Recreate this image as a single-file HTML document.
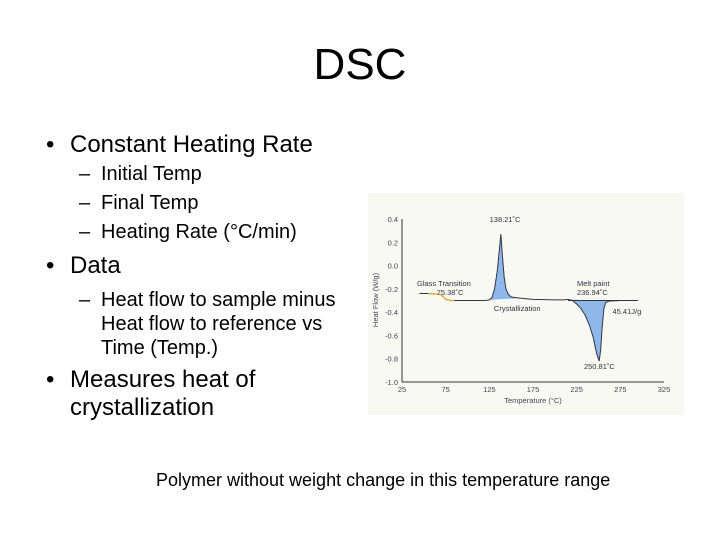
<!DOCTYPE html>
<html><head><meta charset="utf-8"><style>
body{margin:0;width:720px;height:540px;background:#fff;font-family:"Liberation Sans",sans-serif;position:relative;overflow:hidden}
.t{position:absolute;white-space:nowrap;color:#000}
</style></head><body>
<div class="t" style="left:0;width:720px;text-align:center;top:40px;font-size:44px">DSC</div>
<div class="t" style="left:46px;top:131px;font-size:24px">•<span style="position:absolute;left:24px">Constant Heating Rate</span></div>
<div class="t" style="left:79px;top:163px;font-size:20px">–<span style="position:absolute;left:22px">Initial Temp</span></div>
<div class="t" style="left:79px;top:192px;font-size:20px">–<span style="position:absolute;left:22px">Final Temp</span></div>
<div class="t" style="left:79px;top:221px;font-size:20px">–<span style="position:absolute;left:22px">Heating Rate (°C/min)</span></div>
<div class="t" style="left:46px;top:252px;font-size:24px">•<span style="position:absolute;left:24px">Data</span></div>
<div class="t" style="left:79px;top:288px;font-size:20px;line-height:24px">–<span style="position:absolute;left:22px">Heat flow to sample minus<br>Heat flow to reference vs<br>Time (Temp.)</span></div>
<div class="t" style="left:46px;top:366px;font-size:24px;line-height:28px">•<span style="position:absolute;left:24px">Measures heat of<br>crystallization</span></div>
<div class="t" style="left:156px;top:470px;font-size:18px">Polymer without weight change in this temperature range</div>
<svg style="position:absolute;left:368px;top:193px" width="316" height="222" viewBox="368 193 316 222">
<rect x="368" y="193" width="316" height="222" fill="#f9f9f3"/>
<g id="g"></g>
</svg>
<script>
const temps=[45,55,65,70,75,80,100,120,125,128,131,134,136,138.2,140,142,144,147,150,160,175,200,210,215,220,225,230,235,240,244,248,250.8,252.5,254,256,258,262,275,295];
const flows=[-0.24,-0.24,-0.245,-0.25,-0.29,-0.3,-0.3,-0.3,-0.295,-0.275,-0.2,-0.05,0.1,0.27,0.08,-0.1,-0.2,-0.25,-0.27,-0.28,-0.29,-0.295,-0.295,-0.29,-0.3,-0.33,-0.37,-0.43,-0.52,-0.62,-0.76,-0.82,-0.72,-0.55,-0.38,-0.32,-0.305,-0.3,-0.3];
const yTicks=["0.4","0.2","0.0","-0.2","-0.4","-0.6","-0.8","-1.0"];
const yVals=[0.4,0.2,0,-0.2,-0.4,-0.6,-0.8,-1.0];
const xVals=[25,75,125,175,225,275,325];
const ns="http://www.w3.org/2000/svg",g=document.getElementById('g');
const X=t=>402+(t-25)*(262/300), Y=v=>219+(0.4-v)*(163/1.4);
function mk(tag,a,txt){const e=document.createElementNS(ns,tag);for(const k in a)e.setAttribute(k,a[k]);if(txt)e.textContent=txt;g.appendChild(e);return e;}
function fill(lo,hi,name){const pts=[];temps.forEach((t,i)=>{if(t>=lo&&t<=hi)pts.push([X(t),Y(flows[i])]);});const d='M'+pts.map(p=>p.join(',')).join('L')+'Z';const e=mk('path',{d:d,fill:'#8fb8ea',stroke:'none'});}
fill(125,165,'crystallization-peak-fill');fill(215,262,'melt-peak-fill');
let a=mk('line',{x1:402,y1:219,x2:402,y2:382,stroke:'#333','stroke-width':1});
a=mk('line',{x1:402,y1:382,x2:664,y2:382,stroke:'#333','stroke-width':1});
yVals.forEach((v,i)=>{const e=mk('text',{x:398,y:Y(v)+3,'font-size':7.5,'text-anchor':'end',fill:'#445'},yTicks[i]);});
xVals.forEach(v=>{const e=mk('text',{x:X(v),y:392,'font-size':7.5,'text-anchor':'middle',fill:'#445'},String(v));});
a=mk('text',{x:533,y:403,'font-size':7.5,'text-anchor':'middle',fill:'#445'},'Temperature (°C)');
a=mk('text',{x:378,y:300,'font-size':7.5,'text-anchor':'middle',fill:'#445',transform:'rotate(-90 378 300)'},'Heat Flow (W/g)');
a=mk('line',{x1:X(215),y1:Y(-0.3),x2:X(295),y2:Y(-0.3),stroke:'#334','stroke-width':1});
const d='M'+temps.map((t,i)=>X(t)+','+Y(flows[i])).join('L');
a=mk('path',{d:d,fill:'none',stroke:'#334','stroke-width':1});
a=mk('path',{d:'M'+[55,65,70,75,80,85].map(t=>X(t)+','+Y(temps.indexOf(t)>=0?flows[temps.indexOf(t)]:-0.3)).join('L'),fill:'none',stroke:'#e0b040','stroke-width':1.5});
const labels=[["138.21˚C",143,222,'middle'],["Glass Transition",73,286,'middle'],["75.38˚C",80,295,'middle'],["Crystallization",157,311,'middle'],["Melt paint",244,286,'middle'],["236.94˚C",243,295,'middle'],["45.41J/g",266,314,'start'],["250.81˚C",251,369,'middle']];
labels.forEach(l=>{const e=mk('text',{x:X(l[1]),y:l[2],'font-size':7.5,'text-anchor':l[3],fill:'#334'},l[0]);});
</script>
</body></html>
